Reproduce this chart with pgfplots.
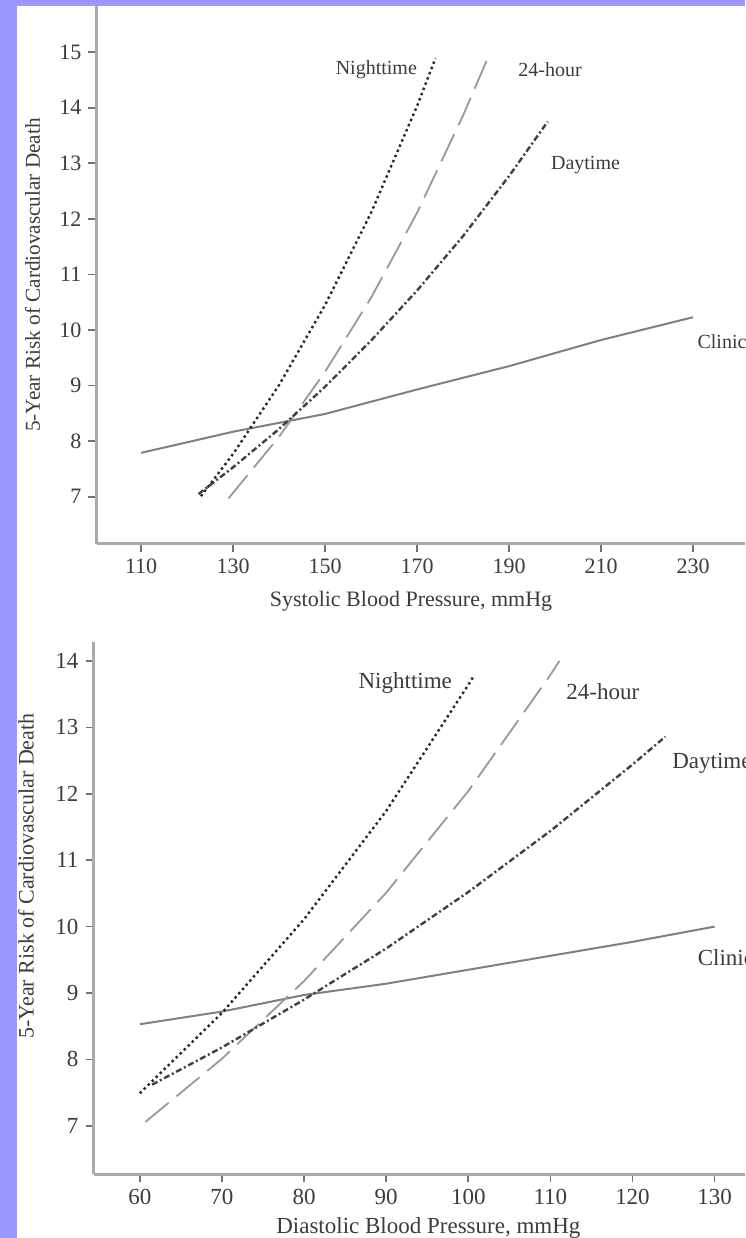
\documentclass[border=0pt]{standalone}
\usepackage{fontspec}
\setmainfont{Liberation Serif}
\usepackage{pgfplots}
\pgfplotsset{compat=1.18}

\definecolor{band}{RGB}{153,153,255}
\definecolor{axgray}{RGB}{170,170,170}
\definecolor{txt}{RGB}{60,60,60}

\pgfplotsset{
  riskaxis/.style={
    scale only axis,
    axis x line*=bottom,
    axis y line*=left,
    axis line style={axgray, line width=1.5pt},
    tick align=outside,
    major tick length=4pt,
    tick style={black!55, line width=0.8pt},
    minor tick num=0,
    /pgf/number format/assume math mode=true,
    tick label style={text=txt},
    label style={text=txt},
    clip=false,
  },
  clinic/.style={black!50, line width=1pt},
  night/.style={black!85, line width=1.2pt, dash pattern=on 1.2pt off 1.6pt},
  hour/.style={black!40, line width=0.9pt, dash pattern=on 15pt off 5pt},
  day/.style={black!75, line width=1.2pt, dash pattern=on 3pt off 1.4pt on 1pt off 1.4pt},
}

\begin{document}
\begin{tikzpicture}
\fill[white] (0,0) rectangle (372.5pt,619pt);

% systolic
\begin{axis}[
  riskaxis,
  at={(48.25pt,347pt)}, anchor=south west,
  width=324.25pt, height=269pt,
  xmin=100.3, xmax=241.3, ymin=6.15, ymax=15.83,
  xtick={110,130,...,230}, ytick={7,8,...,15},
  tick label style={font=\fontsize{11}{13}\selectfont},
  xlabel={Systolic Blood Pressure, mmHg},
  ylabel={5-Year Risk of Cardiovascular Death},
  xlabel style={font=\fontsize{11}{13}\selectfont, at={(axis description cs:0.485,0)}, anchor=center, yshift=-28.5pt},
  ylabel style={font=\fontsize{10.6}{12}\selectfont, at={(axis description cs:-0.0987,0.5)}, anchor=center},
]
\addplot[clinic] coordinates {(110,7.79) (130,8.17) (150,8.49) (170,8.93) (190,9.35) (210,9.82) (230,10.23)};
\addplot[night] coordinates {(123,7.01) (130,7.77) (140,9.01) (150,10.45) (160,12.11) (170,14.03) (174,14.89)};
\addplot[hour] coordinates {(129,6.97) (140,8.08) (150,9.25) (160,10.58) (170,12.11) (180,13.86) (185.2,14.86)};
\addplot[day] coordinates {(122.5,7.05) (130,7.53) (140,8.22) (150,8.98) (160,9.81) (170,10.71) (180,11.69) (190,12.77) (198.4,13.75)};
\node[anchor=east, font=\fontsize{10}{12}\selectfont, text=txt] at (axis cs:171.5,14.68) {Nighttime};
\node[anchor=west, font=\fontsize{10}{12}\selectfont, text=txt] at (axis cs:190.5,14.68) {24-hour};
\node[anchor=west, font=\fontsize{10}{12}\selectfont, text=txt] at (axis cs:197.6,12.96) {Daytime};
\node[anchor=west, font=\fontsize{10}{12}\selectfont, text=txt, inner sep=0pt] at (axis cs:230.9,9.79) {Clinic};
\end{axis}

% diastolic
\begin{axis}[
  riskaxis,
  at={(46.75pt,31.85pt)}, anchor=south west,
  width=325.75pt, height=266.3pt,
  xmin=54.36, xmax=133.7, ymin=6.27, ymax=14.29,
  xtick={60,70,...,130}, ytick={7,8,...,14},
  tick label style={font=\fontsize{11.5}{13}\selectfont},
  xlabel={Diastolic Blood Pressure, mmHg},
  ylabel={5-Year Risk of Cardiovascular Death},
  xlabel style={font=\fontsize{11.5}{13}\selectfont, at={(axis description cs:0.514,0)}, anchor=center, yshift=-26.9pt},
  ylabel style={font=\fontsize{11}{13}\selectfont, at={(axis description cs:-0.1036,0.56)}, anchor=center},
]
\addplot[clinic] coordinates {(60,8.53) (70,8.72) (80,8.97) (90,9.14) (100,9.35) (110,9.56) (120,9.77) (130,10.0)};
\addplot[night] coordinates {(60,7.49) (70,8.70) (80,10.11) (90,11.74) (100,13.64) (100.75,13.79)};
\addplot[hour] coordinates {(60.7,7.06) (70,8.01) (80,9.18) (90,10.51) (100,12.04) (110,13.79) (111.1,14.0)};
\addplot[day] coordinates {(61.5,7.62) (70,8.18) (80,8.90) (90,9.67) (100,10.52) (110,11.44) (120,12.44) (124,12.86)};
\node[anchor=west, font=\fontsize{11.5}{13}\selectfont, text=txt, inner sep=0pt] at (axis cs:86.6,13.67) {Nighttime};
\node[anchor=west, font=\fontsize{11.5}{13}\selectfont, text=txt, inner sep=0pt] at (axis cs:111.9,13.54) {24-hour};
\node[anchor=west, font=\fontsize{11.5}{13}\selectfont, text=txt, inner sep=0pt] at (axis cs:124.8,12.46) {Daytime};
\node[anchor=west, font=\fontsize{11.5}{13}\selectfont, text=txt, inner sep=0pt] at (axis cs:127.9,9.53) {Clinic};
\end{axis}

\fill[band] (0,0) rectangle (8.5pt,619pt);
\fill[band] (0,616pt) rectangle (372.5pt,619pt);
\pgfresetboundingbox
\useasboundingbox (0,0) rectangle (372.5pt,619pt);
\end{tikzpicture}
\end{document}
